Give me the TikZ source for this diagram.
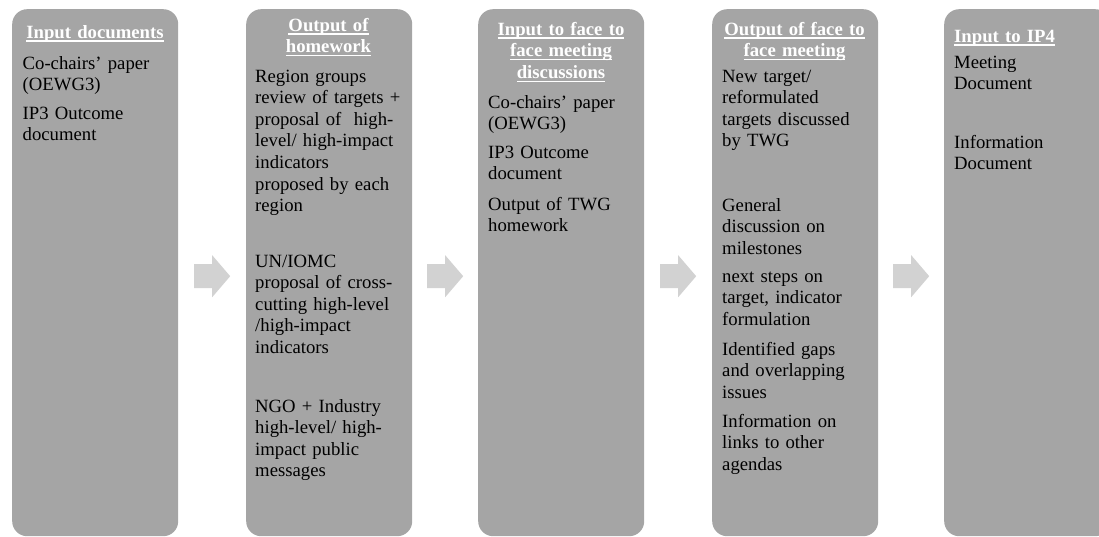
\documentclass[tikz,border=0pt]{standalone}
\usepackage{fontspec}
\setmainfont{Liberation Serif}
\usetikzlibrary{calc}
\newcommand\titleul[1]{\leavevmode\setbox0\hbox{#1}\rlap{\rule[-3.6pt]{\wd0}{1.3pt}}\box0}
\definecolor{boxgray}{HTML}{A5A5A5}
\definecolor{arrowgray}{HTML}{D2D2D2}
\tikzset{
  stagebox/.style={fill=boxgray, draw=none, rounded corners=15pt, minimum width=166pt, minimum height=527pt, anchor=north west, inner sep=0pt},
  bodytext/.style={anchor=base west, inner sep=0pt, text width=170pt, align=left, font=\fontsize{18.7}{21.6}\selectfont, text=black},
  titletext/.style={anchor=base, inner sep=0pt, text width=166pt, align=center, font=\fontsize{18.7}{21.6}\selectfont\bfseries, text=white},
  flowarrow/.pic={\fill[arrowgray] (-18,-8.5) -- (0,-8.5) -- (0,-17.5) -- (18,3.5) -- (0,24.5) -- (0,15.5) -- (-18,15.5) -- cycle;}
}
\begin{document}
\begin{tikzpicture}[x=1pt,y=-1pt]
\useasboundingbox (0,0) rectangle (1099,536);
% boxes
\node[stagebox] (b1) at (12,9) {};
\node[stagebox] (b2) at (246,9) {};
\node[stagebox] (b3) at (478,9) {};
\node[stagebox] (b4) at (712,9) {};
\node[stagebox] (b5) at (944,9) {};
% arrows
\pic (a1) at ($(b1.east)!0.5!(b2.west)$) {flowarrow};
\pic (a2) at ($(b2.east)!0.5!(b3.west)$) {flowarrow};
\pic (a3) at ($(b3.east)!0.5!(b4.west)$) {flowarrow};
\pic (a4) at ($(b4.east)!0.5!(b5.west)$) {flowarrow};
% box 1
\node[titletext] (t1) at (95,38) {\titleul{Input documents}};
\node[bodytext] (p11) at (22.5,69) {Co-chairs’ paper\\(OEWG3)};
\node[bodytext] (p12) at (22.5,119) {IP3 Outcome\\document};
% box 2
\node[titletext] (t2) at (328.5,31) {\titleul{Output of}\\\titleul{homework}};
\node[bodytext] (p21) at (255,82) {Region groups\\review of targets +\\proposal of\ \ high-\\level/ high-impact\\indicators\\proposed by each\\region};
\node[bodytext] (p22) at (255,267) {UN/IOMC\\proposal of cross-\\cutting high-level\\/high-impact\\indicators};
\node[bodytext] (p23) at (255,412) {NGO + Industry\\high-level/ high-\\impact public\\messages};
% box 3
\node[titletext] (t3) at (561,35) {\titleul{Input to face to}\\\titleul{face meeting}\\\titleul{discussions}};
\node[bodytext] (p31) at (488,108) {Co-chairs’ paper\\(OEWG3)};
\node[bodytext] (p32) at (488,158) {IP3 Outcome\\document};
\node[bodytext] (p33) at (488,210) {Output of TWG\\homework};
% box 4
\node[titletext] (t4) at (794.5,35) {\titleul{Output of face to}\\\titleul{face meeting}};
\node[bodytext] (p41) at (722,82) {New target/\\reformulated\\targets discussed\\by TWG};
\node[bodytext] (p42) at (722,211) {General\\discussion on\\milestones};
\node[bodytext] (p43) at (722,282) {next steps on\\target, indicator\\formulation};
\node[bodytext] (p44) at (722,355) {Identified gaps\\and overlapping\\issues};
\node[bodytext] (p45) at (722,427) {Information on\\links to other\\agendas};
% box 5
\node[titletext, anchor=base west, align=left] (t5) at (954,42) {\titleul{Input to IP4}};
\node[bodytext] (p51) at (954,68) {Meeting\\Document};
\node[bodytext] (p52) at (954,148) {Information\\Document};
\end{tikzpicture}
\end{document}
